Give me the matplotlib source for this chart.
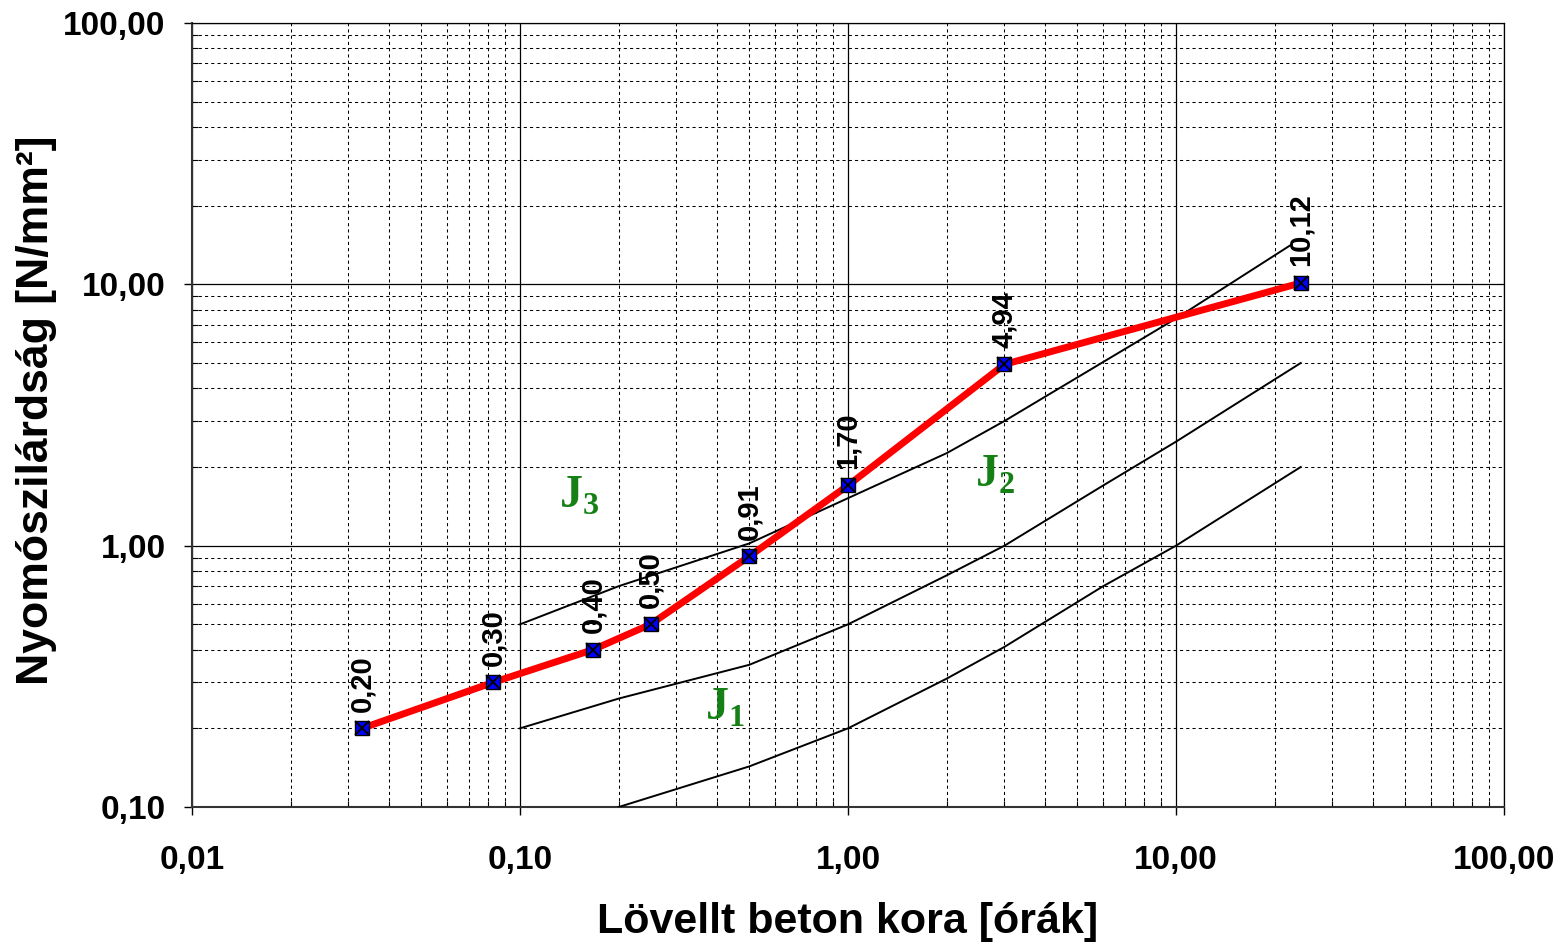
import matplotlib
matplotlib.use("Agg")
import matplotlib.pyplot as plt
from matplotlib.ticker import LogLocator, NullFormatter, FixedLocator, FixedFormatter

# ---------------- data ----------------
time_h = [0.033, 0.083, 0.167, 0.25, 0.5, 1.0, 3.0, 24.0]
strength = [0.20, 0.30, 0.40, 0.50, 0.91, 1.70, 4.94, 10.12]
strength_labels = ["0,20", "0,30", "0,40", "0,50", "0,91", "1,70", "4,94", "10,12"]

# boundary curves of the J1 / J2 / J3 zones
j1_low_x = [0.2, 0.5, 1.0, 2.0, 3.0, 6.0, 10.0, 24.0]
j1_low_y = [0.10, 0.143, 0.20, 0.31, 0.41, 0.70, 1.0, 2.0]
j1_j2_x = [0.1, 0.2, 0.5, 1.0, 2.0, 3.0, 6.0, 10.0, 24.0]
j1_j2_y = [0.20, 0.26, 0.35, 0.50, 0.77, 1.0, 1.7, 2.5, 5.0]
j2_j3_x = [0.1, 0.2, 0.5, 1.0, 2.0, 3.0, 10.0, 22.5]
j2_j3_y = [0.50, 0.70, 1.02, 1.52, 2.26, 3.0, 7.4, 14.2]

zone_labels = [r"$\mathbf{J}_{\mathbf{1}}$", r"$\mathbf{J}_{\mathbf{2}}$", r"$\mathbf{J}_{\mathbf{3}}$"]
zone_pos = [(0.422, 0.241), (2.8, 1.88), (0.152, 1.56)]

x_ticks = [0.01, 0.1, 1.0, 10.0, 100.0]
x_tick_labels = ["0,01", "0,10", "1,00", "10,00", "100,00"]
y_ticks = [0.1, 1.0, 10.0, 100.0]
y_tick_labels = ["0,10", "1,00", "10,00", "100,00"]

x_label = "Lövellt beton kora [órák]"
y_label = "Nyomószilárdság [N/mm²]"

# ---------------- style ----------------
plt.rcParams['font.family'] = ['Liberation Sans', 'DejaVu Sans']
plt.rcParams['mathtext.fontset'] = 'custom'
plt.rcParams['mathtext.bf'] = 'Liberation Serif:bold'
plt.rcParams['mathtext.rm'] = 'Liberation Serif'

fig = plt.figure(figsize=(15.65, 9.51), dpi=100)
ax = fig.add_axes([192 / 1565, 1 - 807 / 951, 1312 / 1565, 784 / 951])

ax.set_xscale('log')
ax.set_yscale('log')
ax.set_xlim(0.01, 100)
ax.set_ylim(0.1, 100)

ax.xaxis.set_major_locator(FixedLocator(x_ticks))
ax.xaxis.set_major_formatter(FixedFormatter(x_tick_labels))
ax.yaxis.set_major_locator(FixedLocator(y_ticks))
ax.yaxis.set_major_formatter(FixedFormatter(y_tick_labels))
ax.xaxis.set_minor_locator(LogLocator(base=10, subs=range(2, 10), numticks=20))
ax.yaxis.set_minor_locator(LogLocator(base=10, subs=range(2, 10), numticks=20))
ax.xaxis.set_minor_formatter(NullFormatter())
ax.yaxis.set_minor_formatter(NullFormatter())

ax.grid(which='major', color='black', lw=0.9, ls='-')
ax.grid(which='minor', color='black', lw=0.75, ls=(0, (3, 3)))

ax.tick_params(which='major', direction='out', length=6, width=1.0,
               labelsize=24)
ax.tick_params(axis='x', which='major', pad=21)
ax.tick_params(axis='y', which='major', pad=13)
ax.tick_params(which='minor', direction='in', length=4, width=0.8)
for lab in ax.get_xticklabels() + ax.get_yticklabels():
    lab.set_fontweight('bold')

for side in ['left', 'bottom']:
    ax.spines[side].set_linewidth(1.5)
    ax.spines[side].set_color('#333333')
for side in ['top', 'right']:
    ax.spines[side].set_linewidth(0.9)
    ax.spines[side].set_color('black')

# zone boundary curves
for xs, ys in [(j1_low_x, j1_low_y), (j1_j2_x, j1_j2_y), (j2_j3_x, j2_j3_y)]:
    ax.plot(xs, ys, color='black', lw=1.4, zorder=3)

# measured series
ax.plot(time_h, strength, color='#ff0000', lw=5, zorder=4, solid_capstyle='butt')
ax.plot(time_h, strength, ls='none', marker='s', ms=10, mfc='#0000ff',
        mec='black', mew=1.0, zorder=5)
ax.plot(time_h, strength, ls='none', marker='x', ms=10, mec='black',
        mew=1.4, zorder=6)

for x, y, lbl in zip(time_h, strength, strength_labels):
    ax.annotate(lbl, (x, y), xytext=(0, 12), textcoords='offset points',
                rotation=90, ha='center', va='bottom', fontsize=21,
                fontweight='bold', zorder=7)

for lbl, (x, y) in zip(zone_labels, zone_pos):
    ax.text(x, y, lbl, color='#158015', fontsize=33, ha='center',
            va='center', zorder=7)

ax.set_xlabel(x_label, fontsize=31, fontweight='bold')
ax.set_ylabel(y_label, fontsize=32, fontweight='bold')
ax.xaxis.set_label_coords(0.5, (807 - 922) / 784)
ax.xaxis.label.set_va('center')
ax.yaxis.set_label_coords((37 - 192) / 1312, (807 - 410) / 784)
ax.yaxis.label.set_va('center')

fig.savefig('out.png', dpi=100)
